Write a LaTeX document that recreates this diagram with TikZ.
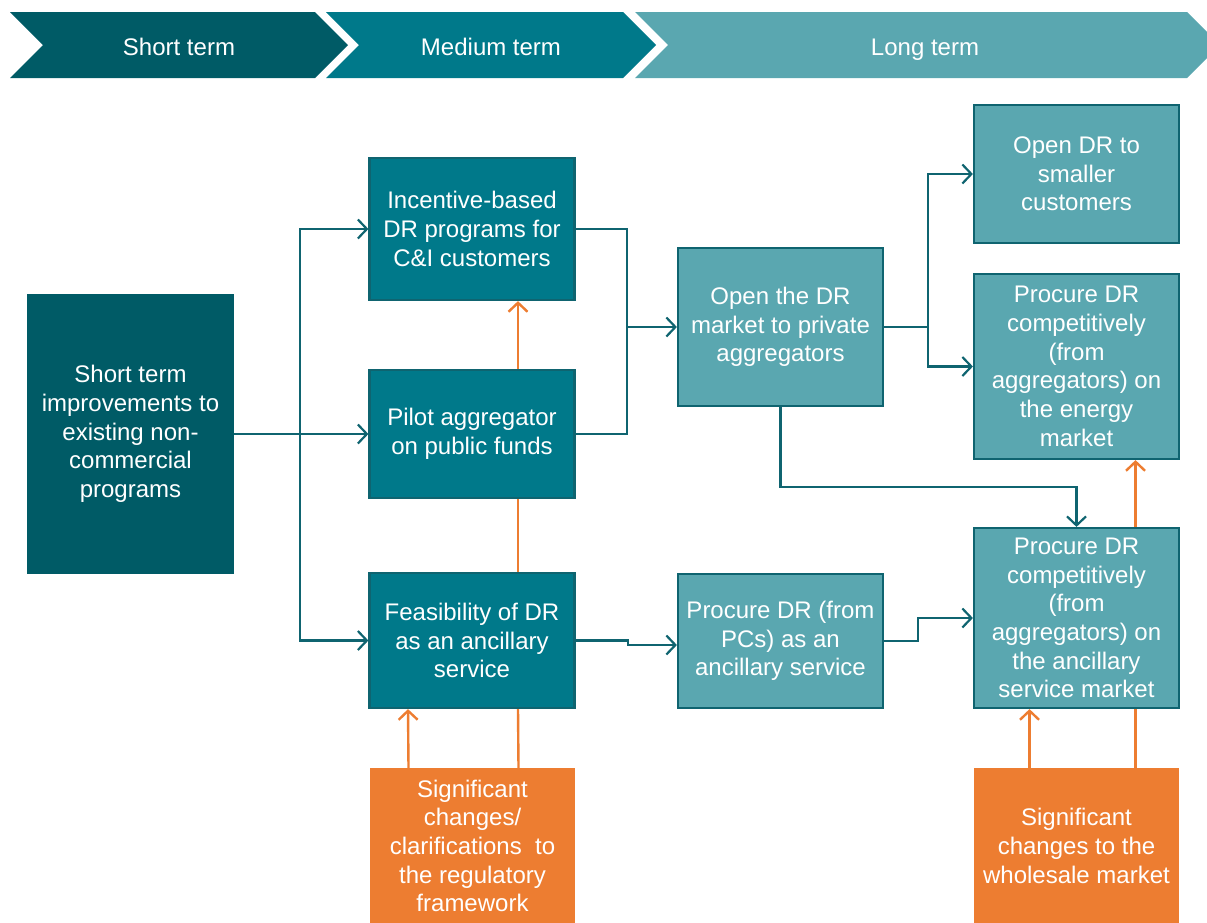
\documentclass[tikz,border=0pt]{standalone}
\usepackage{fontspec}
\setmainfont{Liberation Sans}
\usetikzlibrary{arrows.meta,calc}

\definecolor{tdark}{HTML}{005B66}
\definecolor{tmid}{HTML}{00798A}
\definecolor{tlight}{HTML}{5AA7B0}
\definecolor{tline}{HTML}{0F6470}
\definecolor{torange}{HTML}{ED7D31}

\begin{document}
\begin{tikzpicture}[x=1pt,y=-1pt,
  every node/.style={font=\fontsize{24}{28.7}\selectfont, text=white,
    align=center, inner sep=0pt},
  basebox/.style={minimum width=205pt},
  darkbox/.style={basebox, fill=tdark},
  midbox/.style={basebox, fill=tmid, draw=tline, line width=2.2pt},
  lightbox/.style={basebox, fill=tlight, draw=tline, line width=2.2pt},
  orangebox/.style={basebox, fill=torange},
  tarr/.style={draw=tline, line width=2.2pt,
    -{Straight Barb[length=9pt,width=19pt,line width=2.2pt]}},
  tplain/.style={draw=tline, line width=2.2pt},
  oarr/.style={draw=torange, line width=2.4pt,
    -{Straight Barb[length=9pt,width=19pt,line width=2.4pt]}},
  oplain/.style={draw=torange, line width=2.4pt},
  head/.style={anchor=base}
]
\useasboundingbox (0,0) rectangle (1207,922);

% time-frame banner
\fill[tdark] (10,12) -- (315,12) -- (348,45) -- (315,78) -- (10,78) -- (43,45) -- cycle;
\fill[tmid] (326,12) -- (623,12) -- (656,45) -- (623,78) -- (326,78) -- (359,45) -- cycle;
\fill[tlight] (635,12) -- (1187,12) -- (1207,32) -- (1207,58) -- (1187,78) -- (635,78) -- (668,45) -- cycle;
\node[head] (hshort) at (179,55) {Short term};
\node[head] (hmed) at (491,55) {Medium term};
\node[head] (hlong) at (925,55) {Long term};

% short term
\node[darkbox, minimum width=207pt, minimum height=280pt] (st) at (130.5,434)
  {Short term\\improvements to\\existing non-\\commercial\\programs};

% medium term
\node[midbox, minimum height=142pt] (inc) at (472,229)
  {Incentive-based\\DR programs for\\C\&I customers};
\node[midbox, minimum height=128pt] (pilot) at (472,434)
  {Pilot aggregator\\on public funds};
\node[midbox, minimum height=135pt] (feas) at (472,640.5)
  {Feasibility of DR\\as an ancillary\\service};
\node[orangebox, minimum height=156pt] (reg) at (472.5,846)
  {Significant\\changes/\\clarifications\ \ to\\the regulatory\\framework};

% long term
\node[lightbox, minimum height=158pt] (open) at (780.5,327)
  {Open the DR\\market to private\\aggregators};
\node[lightbox, minimum height=134pt] (pcs) at (780.5,641)
  {Procure DR (from\\PCs) as an\\ancillary service};
\node[lightbox, minimum height=138pt] (small) at (1076.5,174)
  {Open DR to\\smaller\\customers};
\node[lightbox, minimum height=185pt] (energy) at (1076.5,366.5)
  {Procure DR\\competitively\\(from\\aggregators) on\\the energy\\market};
\node[lightbox, minimum height=180pt] (anc) at (1076.5,618)
  {Procure DR\\competitively\\(from\\aggregators) on\\the ancillary\\service market};
\node[orangebox, minimum height=156pt] (whole) at (1076.5,846)
  {Significant\\changes to the\\wholesale market};

% connectors from the short term programs
\coordinate (sp) at (300,434);
\draw[tplain] (st.east) -- (sp);
\draw[tarr] (sp) |- (inc.west);
\draw[tarr] (sp) -- (pilot.west);
\draw[tarr] (sp) |- (feas.west);

% merge towards the private aggregator market
\coordinate (mj) at (627,327);
\draw[tplain] (inc.east) -| (mj);
\draw[tplain] (pilot.east) -| (mj);
\draw[tarr] (mj) -- (open.west);

% feasibility to ancillary service procurement
\draw[tarr] (feas.east) -- ++(52,0) |- ([yshift=-4pt]pcs.west);
\draw[tarr] (pcs.east) -- ++(34,0) |- (anc.west);

% private aggregator market branches
\coordinate (oj) at (928,327);
\draw[tplain] (open.east) -- (oj);
\draw[tarr] (oj) |- (small.west);
\draw[tarr] (oj) |- (energy.west);
\draw[tarr] (open.south) -- ++(0,80) -| (anc.north);

% enabling conditions
\draw[oarr] ([xshift=46pt]pilot.north) -- ([xshift=46pt]inc.south);
\draw[oplain] ([xshift=46pt]feas.north) -- ([xshift=46pt]pilot.south);
\draw[oarr] ([xshift=-64pt]reg.north) -- ([xshift=-64pt]feas.south);
\draw[oplain] ([xshift=46pt]reg.north) -- ([xshift=46pt]feas.south);
\draw[oarr] ([xshift=59pt]anc.north) -- ([xshift=59pt]energy.south);
\draw[oarr] ([xshift=-47pt]whole.north) -- ([xshift=-47pt]anc.south);
\draw[oplain] ([xshift=59pt]whole.north) -- ([xshift=59pt]anc.south);
\end{tikzpicture}
\end{document}
